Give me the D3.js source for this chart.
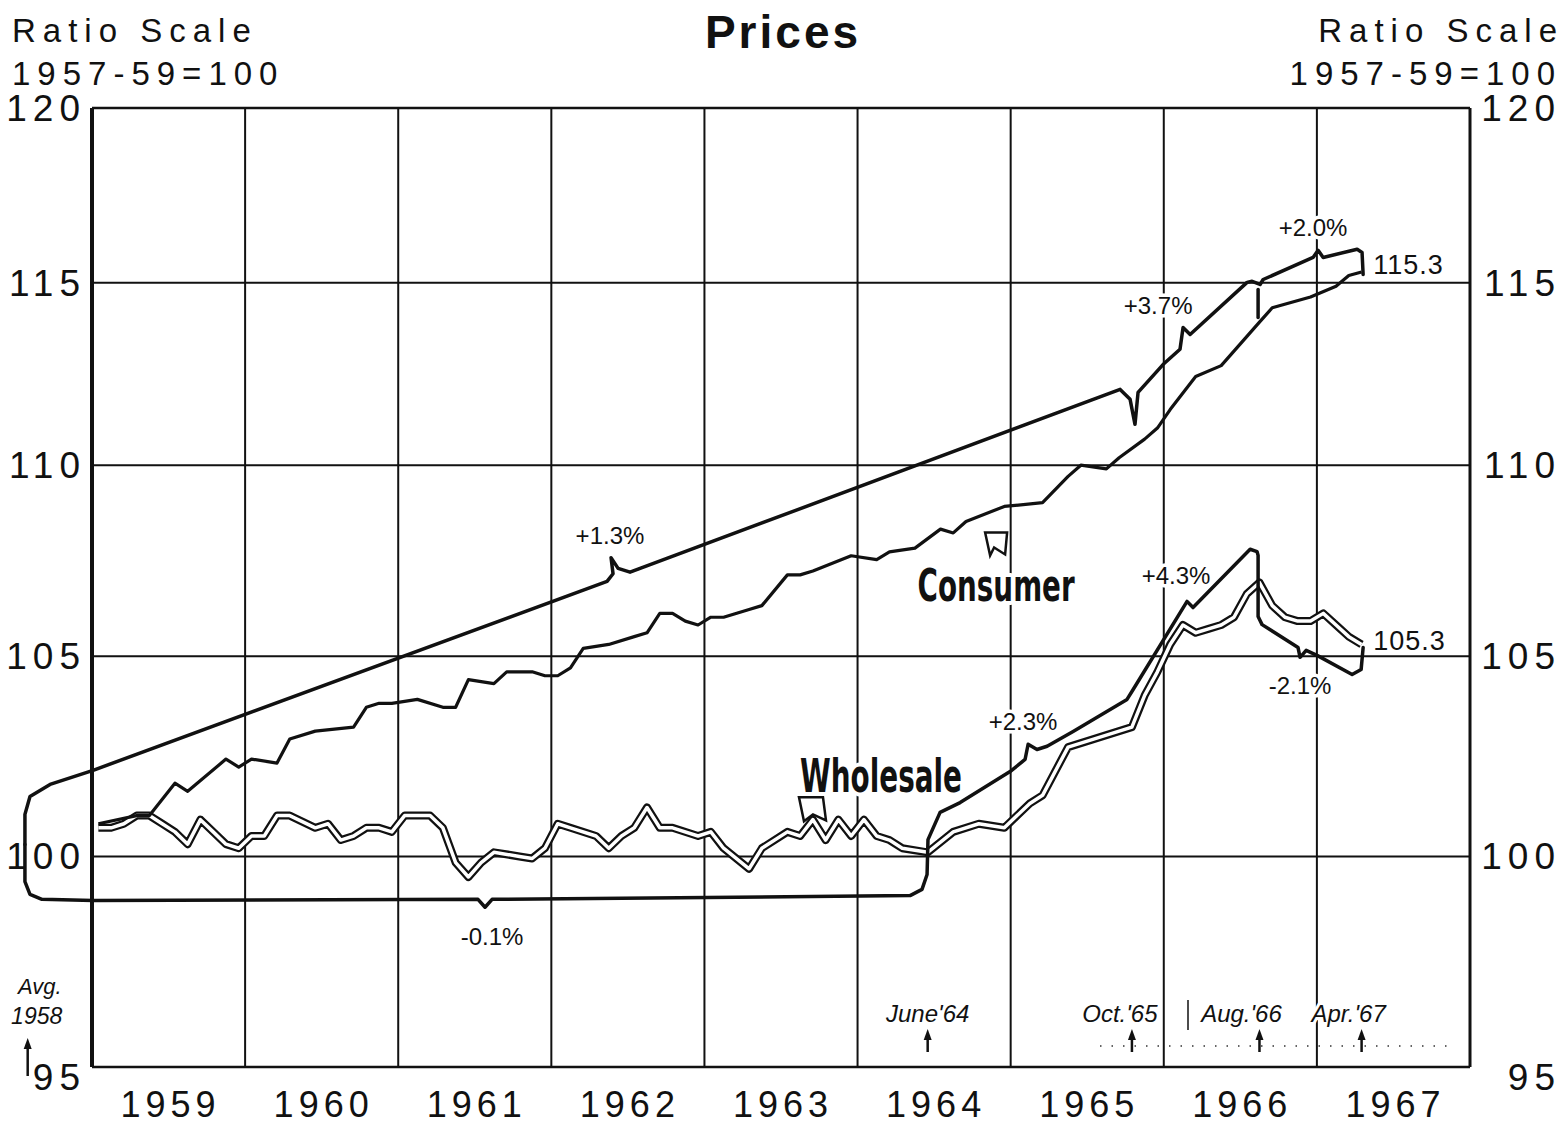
<!DOCTYPE html>
<html>
<head>
<meta charset="utf-8">
<script src="https://cdn.jsdelivr.net/npm/d3@7"></script>
<style>
  html, body { margin: 0; padding: 0; background: #fff; }
  svg { display: block; }
</style>
</head>
<body>
<svg id="chart" width="1565" height="1124"></svg>
<script>
// monthly indexes, 1957-59 = 100
const consumerMonths = ['1959-01','1959-04','1959-05','1959-07','1959-08','1959-11','1959-12',
  '1960-01','1960-03','1960-04','1960-06','1960-09','1960-10','1960-11','1960-12',
  '1961-02','1961-04','1961-05','1961-06','1961-08','1961-09','1961-11','1961-12',
  '1962-01','1962-02','1962-03','1962-05','1962-07','1962-08','1962-09','1962-10','1962-11','1962-12',
  '1963-01','1963-02','1963-04','1963-05','1963-07','1963-08','1963-09','1963-12',
  '1964-02','1964-03','1964-05','1964-07','1964-08','1964-09','1964-12',
  '1965-03','1965-05','1965-06','1965-08','1965-09','1965-11','1965-12',
  '1966-01','1966-03','1966-05','1966-07','1966-08','1966-09','1966-12',
  '1967-02','1967-03','1967-04'];
const consumerValues = [100.8,101.0,101.0,101.8,101.6,102.4,102.2,
  102.4,102.3,102.9,103.1,103.2,103.7,103.8,103.8,
  103.9,103.7,103.7,104.4,104.3,104.6,104.6,104.5,
  104.5,104.7,105.2,105.3,105.5,105.6,106.1,106.1,105.9,105.8,
  106.0,106.0,106.2,106.3,107.1,107.1,107.2,107.6,
  107.5,107.7,107.8,108.3,108.2,108.5,108.9,
  109.0,109.7,110.0,109.9,110.2,110.7,111.0,
  111.5,112.4,112.7,113.5,113.9,114.3,114.6,
  114.9,115.2,115.3];

const wholesaleMonths = ['1959-01','1959-02','1959-03','1959-04','1959-05','1959-06','1959-07','1959-08','1959-09','1959-10','1959-11','1959-12',
  '1960-01','1960-02','1960-03','1960-04','1960-06','1960-07','1960-08','1960-09','1960-10','1960-11','1960-12',
  '1961-01','1961-03','1961-04','1961-05','1961-06','1961-07','1961-08','1961-10','1961-11','1961-12',
  '1962-01','1962-02','1962-04','1962-05','1962-06','1962-07','1962-08','1962-09','1962-10','1962-12',
  '1963-01','1963-02','1963-04','1963-05','1963-07','1963-08','1963-09','1963-10','1963-11','1963-12',
  '1964-01','1964-02','1964-03','1964-04','1964-06','1964-08','1964-10','1964-12',
  '1965-01','1965-02','1965-03','1965-05','1965-07','1965-09','1965-10','1965-11','1965-12',
  '1966-01','1966-02','1966-03','1966-04','1966-05','1966-06','1966-07','1966-08','1966-09','1966-10','1966-11','1966-12',
  '1967-01','1967-02','1967-03','1967-04'];
const wholesaleValues = [100.7,100.7,100.8,101.0,101.0,100.8,100.6,100.3,100.9,100.6,100.3,100.2,
  100.5,100.5,101.0,101.0,100.7,100.8,100.4,100.5,100.7,100.7,100.6,
  101.0,101.0,100.7,99.85,99.5,99.85,100.1,100.0,99.95,100.2,
  100.8,100.7,100.5,100.2,100.5,100.7,101.2,100.7,100.7,100.5,
  100.6,100.2,99.7,100.2,100.6,100.5,100.9,100.4,100.9,100.5,
  100.9,100.5,100.4,100.2,100.1,100.6,100.8,100.7,
  101.0,101.3,101.5,102.7,102.9,103.1,103.2,104.0,104.6,
  105.3,105.8,105.6,105.7,105.8,106.0,106.6,106.9,106.3,106.0,105.9,105.9,
  106.1,105.8,105.5,105.3];

// trend brackets drawn beside the series: [decimal year, index]
const consumerBracket = [[1958.562,100.29],[1958.562,101.03],[1958.595,101.47],[1958.726,101.77],[1959.007,102.12],
  [1962.364,106.93],[1962.403,107.13],[1962.390,107.55],[1962.436,107.27],[1962.514,107.17],
  [1965.715,112.05],[1965.780,111.78],[1965.812,111.10],[1965.832,111.97],[1965.995,112.73],
  [1966.106,113.15],[1966.126,113.75],[1966.172,113.56],[1966.544,115.01],[1966.577,115.04],
  [1966.629,114.95],[1966.649,115.09],[1966.975,115.71],[1967.008,115.91],[1967.041,115.71],
  [1967.263,115.94],[1967.295,115.85],[1967.302,115.23]];
const consumerAugTick = [[1966.616,114.81],[1966.616,114.03]];
const wholesaleBracket = [[1958.562,100.29],[1958.562,99.39],[1958.595,99.08],[1958.673,98.96],[1959.007,98.93],
  [1961.521,98.96],[1961.567,98.77],[1961.613,98.96],[1964.343,99.05],[1964.421,99.20],[1964.454,99.56],
  [1964.460,100.41],[1964.539,101.08],[1964.670,101.32],[1964.996,102.09],[1965.094,102.39],
  [1965.114,102.77],[1965.172,102.64],[1965.238,102.72],[1965.408,103.09],[1965.760,103.90],
  [1965.800,104.15],[1966.152,106.41],[1966.191,106.25],[1966.564,107.77],[1966.609,107.71],
  [1966.616,107.61],[1966.616,106.02],[1966.642,105.81],[1966.877,105.22],[1966.890,104.97],
  [1966.930,105.15],[1967.001,105.02],[1967.230,104.53],[1967.289,104.66],[1967.302,105.22]];

const rateLabels = ['+1.3%', '+3.7%', '+2.0%', '-0.1%', '+2.3%', '+4.3%', '-2.1%'];
const lastValues = [115.3, 105.3];
const markerDates = [1958.58, 1964.458, 1965.792, 1966.625, 1967.292];
const markerLabels = ['Avg.', "June'64", "Oct.'65", "Aug.'66", "Apr.'67"];
const yearLabels = ['1959','1960','1961','1962','1963','1964','1965','1966','1967'];
const axisTicks = [95, 100, 105, 110, 115, 120];
const gridValues = [100, 105, 110, 115];

const svg = d3.select('#chart');
const FONT = "'Liberation Sans', Arial, sans-serif";

const x = d3.scaleLinear().domain([1959, 1968]).range([92, 1470]);
const y = d3.scaleLog().domain([95, 120]).range([1067, 108]);

const monthToYear = s => {
  const [yy, mm] = s.split('-').map(Number);
  return yy + (mm - 0.5) / 12;
};
const consumer = consumerMonths.map((m, i) => [monthToYear(m), consumerValues[i]]);
const wholesale = wholesaleMonths.map((m, i) => [monthToYear(m), wholesaleValues[i]]);

const line = d3.line().x(d => x(d[0])).y(d => y(d[1]));

// grid
const grid = svg.append('g').attr('stroke', '#111').attr('stroke-width', 2);
grid.selectAll('line.v')
  .data(d3.range(1960, 1968))
  .join('line')
  .attr('x1', d => x(d)).attr('x2', d => x(d))
  .attr('y1', y(120)).attr('y2', y(95));
grid.selectAll('line.h')
  .data(gridValues)
  .join('line')
  .attr('x1', x(1959)).attr('x2', x(1968))
  .attr('y1', d => y(d)).attr('y2', d => y(d));

// frame
svg.append('line').attr('x1', x(1959)).attr('x2', x(1959)).attr('y1', y(120)).attr('y2', y(95))
  .attr('stroke', '#111').attr('stroke-width', 4);
svg.append('line').attr('x1', x(1968)).attr('x2', x(1968)).attr('y1', y(120)).attr('y2', y(95))
  .attr('stroke', '#111').attr('stroke-width', 3);
svg.append('line').attr('x1', x(1959)).attr('x2', x(1968)).attr('y1', y(120)).attr('y2', y(120))
  .attr('stroke', '#111').attr('stroke-width', 2.5);
svg.append('line').attr('x1', x(1959)).attr('x2', x(1968)).attr('y1', y(95)).attr('y2', y(95))
  .attr('stroke', '#111').attr('stroke-width', 2.5);

// wholesale: hollow double line
svg.append('path').datum(wholesale)
  .attr('fill', 'none').attr('stroke', '#111').attr('stroke-width', 8)
  .attr('stroke-linejoin', 'round').attr('d', line);
svg.append('path').datum(wholesale)
  .attr('fill', 'none').attr('stroke', '#fff').attr('stroke-width', 3.5)
  .attr('stroke-linejoin', 'round').attr('d', line);

// consumer
svg.append('path').datum(consumer)
  .attr('fill', 'none').attr('stroke', '#111').attr('stroke-width', 3.2)
  .attr('stroke-linejoin', 'round').attr('d', line);

// brackets
[consumerBracket, wholesaleBracket, consumerAugTick].forEach(b => {
  svg.append('path').datum(b)
    .attr('fill', 'none').attr('stroke', '#111').attr('stroke-width', 3.5)
    .attr('stroke-linejoin', 'round').attr('stroke-linecap', 'round')
    .attr('d', line);
});

// text helper with white halo (breaks the grid like the original)
function label(text, px, py, opts = {}) {
  const t = svg.append('text')
    .attr('x', px).attr('y', py)
    .attr('font-family', opts.family || FONT)
    .attr('font-size', opts.size || 24)
    .attr('font-weight', opts.weight || 'normal')
    .attr('font-style', opts.style || 'normal')
    .attr('text-anchor', opts.anchor || 'middle')
    .attr('letter-spacing', opts.spacing || 0)
    .attr('fill', '#111')
    .text(text);
  if (opts.halo) {
    t.attr('stroke', '#fff').attr('stroke-width', opts.halo)
      .attr('paint-order', 'stroke').attr('stroke-linejoin', 'round');
  }
  if (opts.length) t.attr('textLength', opts.length).attr('lengthAdjust', 'spacingAndGlyphs');
  return t;
}

// title and headers
label('Prices', 783, 48, { size: 46, weight: 'bold', spacing: 3 });
label('Ratio Scale', 12, 42, { size: 33, spacing: 7, anchor: 'start' });
label('1957-59=100', 12, 85, { size: 33, spacing: 7, anchor: 'start' });
label('Ratio Scale', 1564, 42, { size: 33, spacing: 7, anchor: 'end' });
label('1957-59=100', 1562, 85, { size: 33, spacing: 7, anchor: 'end' });

// value axes
axisTicks.forEach(v => {
  const dy = v === 95 ? 10 : 0;
  label(String(v), 86, y(v) + 13 + dy, { size: 37, spacing: 6, anchor: 'end' });
  label(String(v), 1561, y(v) + 13 + dy, { size: 37, spacing: 6, anchor: 'end' });
});

// years
yearLabels.forEach(yr => {
  label(yr, x(+yr + 0.5) + 2, 1117, { size: 36, spacing: 5 });
});

// rate labels
const ratePos = [[1962.383, 108.11], [1965.963, 114.34], [1966.975, 116.53],
  [1961.613, 98.05], [1965.081, 103.34], [1966.080, 107.06], [1966.890, 104.25]];
rateLabels.forEach((t, i) => {
  label(t, x(ratePos[i][0]), y(ratePos[i][1]) + 8, { size: 24, halo: 7 });
});
label(String(lastValues[0]), x(1967.302) + 10, y(lastValues[0]) + 2, { size: 27, anchor: 'start', spacing: 1, halo: 6 });
label(String(lastValues[1]), x(1967.302) + 10, y(lastValues[1]) + 6, { size: 27, anchor: 'start', spacing: 1, halo: 6 });

// series names with pointers
const NARROW = "'Liberation Sans Narrow', 'DejaVu Sans Condensed', 'Liberation Sans', sans-serif";
const cx = x(1964.905), cy = y(106.85);
label('Consumer', cx, cy + 17, { size: 44, weight: 'bold', family: NARROW, length: 157, halo: 8 });
svg.append('path')
  .attr('d', `M${cx - 11},${cy - 52} L${cx + 11},${cy - 52} L${cx + 9},${cy - 30} L${cx - 2},${cy - 37} L${cx - 6},${cy - 29} Z`)
  .attr('fill', '#fff').attr('stroke', '#111').attr('stroke-width', 2.5);
const wx = x(1964.153), wy = y(102.02);
label('Wholesale', wx, wy + 18, { size: 46, weight: 'bold', family: NARROW, length: 162, halo: 8 });
svg.append('path')
  .attr('d', `M${wx - 82},${wy + 23} L${wx - 58},${wy + 23} L${wx - 55},${wy + 46} L${wx - 68},${wy + 40} L${wx - 77},${wy + 47} Z`)
  .attr('fill', '#fff').attr('stroke', '#111').attr('stroke-width', 2.5);

// date markers along the bottom
const labelShift = [0, 0, -12, -18, -13];
markerDates.forEach((d, i) => {
  const mx = x(d);
  const top = i === 0 ? 1042 : 1033;
  const bot = i === 0 ? 1076 : 1052;
  svg.append('line').attr('x1', mx).attr('x2', mx).attr('y1', top + 4).attr('y2', bot)
    .attr('stroke', '#111').attr('stroke-width', 2.5);
  svg.append('path').attr('d', `M${mx},${top - 4} L${mx - 4},${top + 7} L${mx + 4},${top + 7} Z`)
    .attr('fill', '#111');
  if (i === 0) {
    label(markerLabels[0], mx + 12, 994, { size: 22, style: 'italic' });
    label('1958', mx + 9, 1024, { size: 23, style: 'italic' });
  } else {
    label(markerLabels[i], mx + labelShift[i], 1022, { size: 24, style: 'italic', halo: 6 });
  }
});
svg.append('line').attr('x1', 1188).attr('x2', 1188).attr('y1', 1000).attr('y2', 1030)
  .attr('stroke', '#111').attr('stroke-width', 1.5);
svg.append('line').attr('x1', 1100).attr('x2', 1450).attr('y1', 1046).attr('y2', 1046)
  .attr('stroke', '#333').attr('stroke-width', 1.5).attr('stroke-dasharray', '1.5 10');
</script>
</body>
</html>
